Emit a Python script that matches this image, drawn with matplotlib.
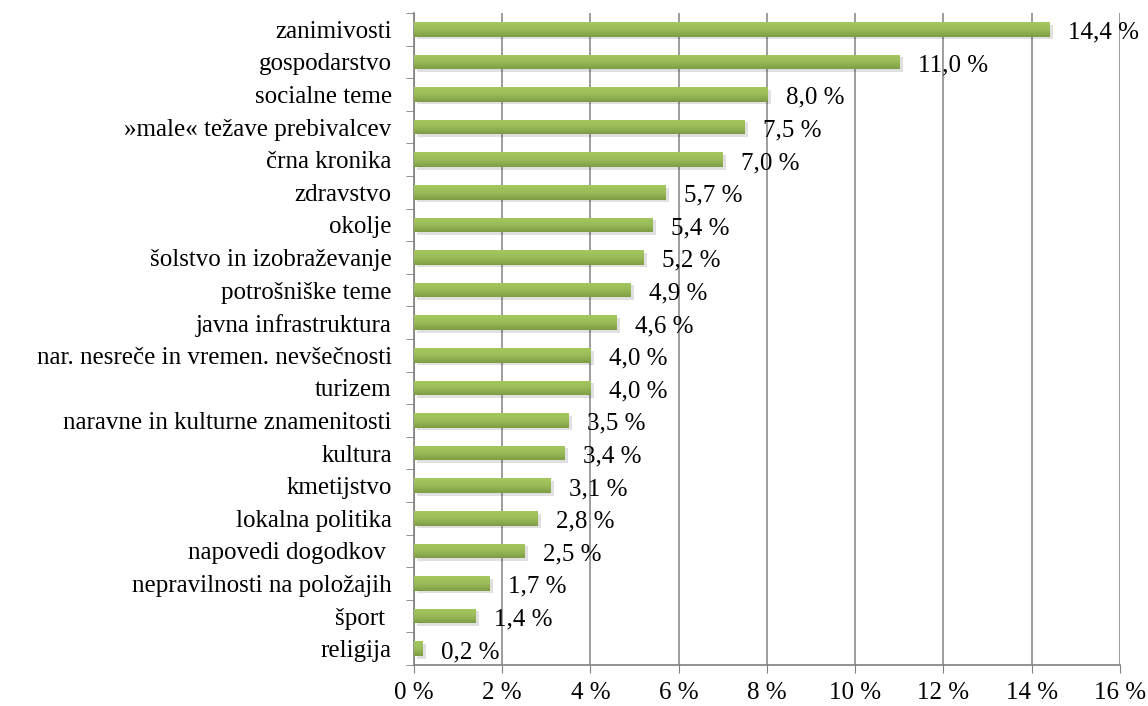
import numpy as np
import matplotlib.pyplot as plt
from matplotlib.colors import LinearSegmentedColormap

categories = ["zanimivosti", "gospodarstvo", "socialne teme", "»male« težave prebivalcev",
              "črna kronika", "zdravstvo", "okolje", "šolstvo in izobraževanje",
              "potrošniške teme", "javna infrastruktura", "nar. nesreče in vremen. nevšečnosti",
              "turizem", "naravne in kulturne znamenitosti", "kultura", "kmetijstvo",
              "lokalna politika", "napovedi dogodkov ", "nepravilnosti na položajih",
              "šport ", "religija"]
values = [14.4, 11.0, 8.0, 7.5, 7.0, 5.7, 5.4, 5.2, 4.9, 4.6, 4.0, 4.0, 3.5, 3.4, 3.1,
          2.8, 2.5, 1.7, 1.4, 0.2]
xticks = [0, 2, 4, 6, 8, 10, 12, 14, 16]

plt.rcParams['font.family'] = ['Liberation Serif', 'DejaVu Serif']
fs = 18

fig = plt.figure(figsize=(11.48, 7.06), dpi=100)
ax = fig.add_axes([0.3606, 0.058, 0.615, 0.9236])

y = np.arange(len(categories))[::-1]
# shadow
ax.barh(y - 0.08, values, height=0.45, left=0.08, color='#000000', alpha=0.12, zorder=2)
bars = ax.barh(y, values, height=0.45, color='#9BBB59', zorder=3)

cmap = LinearSegmentedColormap.from_list('g', ['#A4C85E', '#9BBB59', '#7E9C44'])
grad = np.linspace(0, 1, 64).reshape(-1, 1)
for b in bars:
    x0, y0 = b.get_x(), b.get_y()
    im = ax.imshow(grad, cmap=cmap, aspect='auto', zorder=4,
                   extent=[x0, x0 + b.get_width(), y0, y0 + b.get_height()])
    im.set_clip_path(b)

for yi, v in zip(y, values):
    ax.text(v + 0.42, yi - 0.1, f"{v:.1f} %".replace('.', ','), va='center', ha='left',
            fontsize=fs, zorder=5)

ax.set_xlim(0, 16)
ax.set_ylim(-0.5, len(categories) - 0.5)
ax.set_xticks(xticks)
ax.set_xticklabels([f"{t} %" for t in xticks], fontsize=fs)
ax.set_yticks(y)
ax.set_yticklabels(categories, fontsize=fs)
ax.set_yticks(np.arange(len(categories) + 1) - 0.5, minor=True)
ax.tick_params(axis='y', which='major', length=0, pad=16)
ax.tick_params(axis='y', which='minor', length=6, color='#808080', direction='out')
ax.tick_params(axis='x', length=6, color='#808080', direction='out', pad=6)

ax.grid(axis='x', color='#8C8C8C', linewidth=1.2, zorder=0)
ax.set_axisbelow(True)
for s in ['top', 'right']:
    ax.spines[s].set_visible(False)
for s in ['left', 'bottom']:
    ax.spines[s].set_color('#808080')
    ax.spines[s].set_linewidth(1.2)

fig.savefig("out.png", dpi=100)
